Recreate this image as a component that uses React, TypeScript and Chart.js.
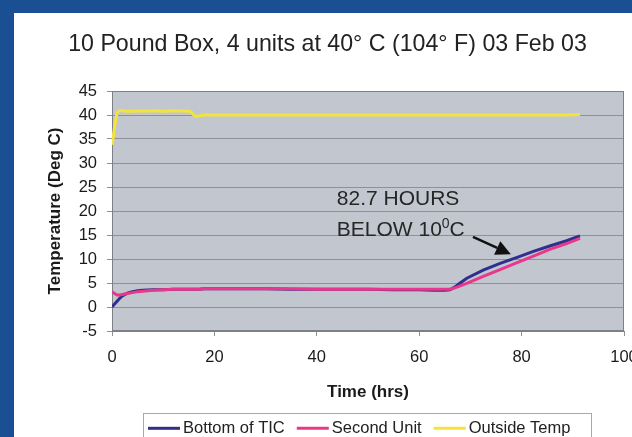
import React, { useEffect, useRef } from "react";
import { Chart, registerables } from "chart.js";

Chart.register(...registerables);

const FONT = "'Liberation Sans', Arial, sans-serif";

const TITLE = "10 Pound Box, 4 units at 40° C (104° F) 03 Feb 03";
const X_TITLE = "Time (hrs)";
const Y_TITLE = "Temperature (Deg C)";
const SERIES_NAMES = ["Bottom of TIC", "Second Unit", "Outside Temp"];
const SERIES_COLORS = ["#2E2F8E", "#E8388C", "#F2E43C"];

const X_MIN = 0;
const X_MAX = 100;
const X_STEP = 20;
const Y_MIN = -5;
const Y_MAX = 45;
const Y_STEP = 5;

const hours = [
  0, 0.5, 1, 1.5, 2, 3, 4, 5, 6, 8,
  10, 12, 15, 15.5, 16, 16.5, 17, 18, 20, 25,
  30, 35, 40, 45, 50, 55, 60, 63, 65, 66,
  67, 68, 69.3, 72.5, 75.8, 79, 82.3, 85.5, 88.8, 91.4,
];

const bottomOfTIC = [
  0, 0.6, 1.2, 1.8, 2.3, 2.9, 3.2, 3.4, 3.5, 3.6,
  3.6, 3.7, 3.7, 3.7, 3.7, 3.7, 3.7, 3.8, 3.8, 3.8,
  3.8, 3.7, 3.7, 3.7, 3.7, 3.6, 3.6, 3.5, 3.5, 3.6,
  4.2, 5.0, 6.0, 7.7, 9.1, 10.3, 11.6, 12.7, 13.8, 14.8,
];

const secondUnit = [
  3.2, 2.8, 2.5, 2.5, 2.6, 2.8, 3.0, 3.2, 3.3, 3.5,
  3.6, 3.7, 3.7, 3.7, 3.7, 3.7, 3.7, 3.8, 3.8, 3.8,
  3.8, 3.8, 3.7, 3.7, 3.7, 3.7, 3.7, 3.7, 3.7, 3.7,
  4.0, 4.4, 4.9, 6.4, 7.8, 9.2, 10.6, 12.0, 13.2, 14.3,
];

const outsideTemp = [
  33.8, 37.5, 40.6, 40.9, 40.9, 40.8, 40.8, 40.9, 40.8, 40.9,
  40.8, 40.9, 40.8, 40.6, 39.9, 39.7, 39.8, 40.0, 40.0, 40.0,
  40.0, 40.0, 40.0, 40.0, 40.0, 40.0, 40.0, 40.0, 40.0, 40.0,
  40.0, 40.0, 40.0, 40.0, 40.0, 40.0, 40.0, 40.0, 40.0, 40.1,
];

// annotation text and arrow, in data units
const NOTE_LINE1 = "82.7 HOURS";
const NOTE_LINE2 = "BELOW 10";
const NOTE_SUP = "0";
const NOTE_UNIT = "C";
const NOTE_X = 43.9;
const NOTE_Y1 = 22.5;
const NOTE_Y2 = 16.0;
const ARROW_FROM = { x: 70.5, y: 14.6 };
const ARROW_TO = { x: 77.9, y: 11.0 };

const decorPlugin = {
  id: "decor",
  beforeDraw(chart: any) {
    const { ctx, chartArea: a } = chart;
    ctx.save();
    ctx.fillStyle = "#C2C6CE";
    ctx.fillRect(a.left, a.top, a.right - a.left, a.bottom - a.top);
    ctx.restore();
  },
  beforeDatasetsDraw(chart: any) {
    const { ctx, chartArea: a } = chart;
    ctx.save();
    ctx.strokeStyle = "#7E8088";
    ctx.lineWidth = 1;
    ctx.strokeRect(a.left + 0.5, a.top + 0.5, a.right - a.left - 1, a.bottom - a.top - 1);
    ctx.restore();
  },
  afterDraw(chart: any) {
    const { ctx } = chart;
    const xs = chart.scales.x;
    const ys = chart.scales.y;
    ctx.save();

    // title
    ctx.fillStyle = "#222";
    ctx.font = `23.2px ${FONT}`;
    ctx.textAlign = "center";
    ctx.textBaseline = "middle";
    ctx.fillText(TITLE, 313.5, 31.5);

    // annotation
    ctx.fillStyle = "#262626";
    ctx.textAlign = "left";
    ctx.textBaseline = "middle";
    const nx = xs.getPixelForValue(NOTE_X);
    ctx.font = `21px ${FONT}`;
    ctx.fillText(NOTE_LINE1, nx, ys.getPixelForValue(NOTE_Y1));
    const y2 = ys.getPixelForValue(NOTE_Y2);
    ctx.fillText(NOTE_LINE2, nx, y2);
    let cx = nx + ctx.measureText(NOTE_LINE2).width;
    ctx.font = `14px ${FONT}`;
    ctx.fillText(NOTE_SUP, cx, y2 - 6);
    cx += ctx.measureText(NOTE_SUP).width;
    ctx.font = `21px ${FONT}`;
    ctx.fillText(NOTE_UNIT, cx, y2);

    // arrow
    const ax0 = xs.getPixelForValue(ARROW_FROM.x);
    const ay0 = ys.getPixelForValue(ARROW_FROM.y);
    const ax1 = xs.getPixelForValue(ARROW_TO.x);
    const ay1 = ys.getPixelForValue(ARROW_TO.y);
    const ang = Math.atan2(ay1 - ay0, ax1 - ax0);
    const headLen = 15;
    const headHalf = 7.5;
    const bx = ax1 - headLen * Math.cos(ang);
    const by = ay1 - headLen * Math.sin(ang);
    ctx.strokeStyle = "#111";
    ctx.fillStyle = "#111";
    ctx.lineWidth = 2.5;
    ctx.beginPath();
    ctx.moveTo(ax0, ay0);
    ctx.lineTo(bx, by);
    ctx.stroke();
    ctx.beginPath();
    ctx.moveTo(ax1, ay1);
    ctx.lineTo(bx + headHalf * Math.sin(ang), by - headHalf * Math.cos(ang));
    ctx.lineTo(bx - headHalf * Math.sin(ang), by + headHalf * Math.cos(ang));
    ctx.closePath();
    ctx.fill();

    // legend
    ctx.strokeStyle = "#A8A8A8";
    ctx.lineWidth = 1;
    ctx.strokeRect(129.5, 400.5, 448, 40);
    ctx.font = `16.5px ${FONT}`;
    ctx.textBaseline = "middle";
    let lx = 134;
    const ly = 415.3;
    SERIES_NAMES.forEach((name, i) => {
      ctx.strokeStyle = SERIES_COLORS[i];
      ctx.lineWidth = 3;
      ctx.beginPath();
      ctx.moveTo(lx, ly);
      ctx.lineTo(lx + 32, ly);
      ctx.stroke();
      lx += 35;
      ctx.fillStyle = "#222";
      ctx.fillText(name, lx, ly);
      lx += ctx.measureText(name).width + 12;
    });

    ctx.restore();
  },
};

export default function App() {
  const ref = useRef<HTMLCanvasElement>(null);

  useEffect(() => {
    document.body.style.margin = "0";
    document.body.style.background = "#1B4F93";
    document.body.style.overflow = "hidden";
    document.documentElement.style.overflow = "hidden";

    const mk = (vals: number[]) => hours.map((h, i) => ({ x: h, y: vals[i] }));
    const seriesValues = [bottomOfTIC, secondUnit, outsideTemp];
    const orders = [2, 1, 0];

    const chart = new Chart(ref.current as HTMLCanvasElement, {
      type: "line",
      data: {
        datasets: SERIES_NAMES.map((name, i) => ({
          label: name,
          data: mk(seriesValues[i]),
          borderColor: SERIES_COLORS[i],
          backgroundColor: SERIES_COLORS[i],
          borderWidth: 3,
          pointRadius: 0,
          tension: 0,
          order: orders[i],
        })),
      },
      options: {
        responsive: false,
        animation: false,
        layout: { padding: { top: 78, bottom: 31, left: 0, right: 30 } },
        plugins: {
          legend: { display: false },
          title: { display: false },
          tooltip: { enabled: false },
        },
        scales: {
          x: {
            type: "linear",
            min: X_MIN,
            max: X_MAX,
            ticks: {
              stepSize: X_STEP,
              padding: 11.6,
              color: "#1a1a1a",
              font: { family: FONT, size: 16.5 },
            },
            grid: {
              drawOnChartArea: false,
              drawTicks: true,
              tickLength: 5,
              tickColor: "#8E9199",
            },
            border: { display: true, color: "#7E8088" },
            title: {
              display: true,
              text: X_TITLE,
              color: "#1a1a1a",
              font: { family: FONT, size: 17, weight: "bold" },
              padding: { top: 0, bottom: 3.8 },
            },
            afterFit(s: any) {
              s.height = 75;
            },
          },
          y: {
            min: Y_MIN,
            max: Y_MAX,
            ticks: {
              stepSize: Y_STEP,
              padding: 10,
              color: "#1a1a1a",
              font: { family: FONT, size: 16.5 },
            },
            grid: {
              color: "#8E9199",
              lineWidth: 1,
              drawTicks: true,
              tickLength: 5,
              tickColor: "#8E9199",
            },
            border: { display: true, color: "#7E8088" },
            title: {
              display: true,
              text: Y_TITLE,
              color: "#1a1a1a",
              font: { family: FONT, size: 17, weight: "bold" },
              padding: { top: 31.3, bottom: 0 },
            },
            afterFit(s: any) {
              s.width = 98;
            },
          },
        },
      } as any,
      plugins: [decorPlugin],
    });
    return () => chart.destroy();
  }, []);

  return (
    <div
      style={{
        position: "absolute",
        left: 14,
        top: 13,
        width: 640,
        height: 424,
        background: "#ffffff",
      }}
    >
      <canvas ref={ref} width={640} height={424} style={{ width: 640, height: 424, display: "block" }} />
    </div>
  );
}
